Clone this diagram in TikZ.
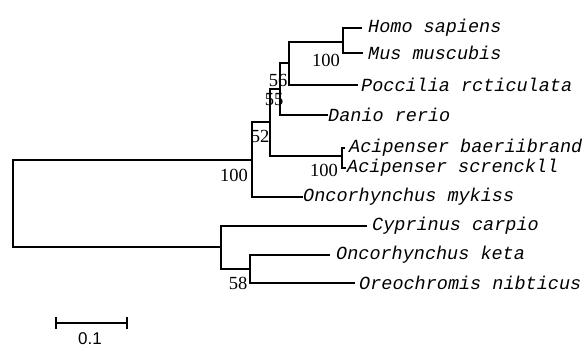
\documentclass[tikz,border=0pt]{standalone}
\usepackage{fontspec}
\newfontfamily\taxfont{Liberation Mono}
\newfontfamily\bootfont{Liberation Serif}
\newfontfamily\barfont{Liberation Sans}
\begin{document}
\begin{tikzpicture}[x=1pt,y=-1pt,
  branch/.style={line width=1.2pt},
  midbranch/.style={line width=1.9pt},
  boldbranch/.style={line width=2.9pt},
  taxon/.style={anchor=west,inner sep=0pt,font=\taxfont\itshape\fontsize{18.5}{20}\selectfont},
  boot/.style={inner sep=0pt,font=\bootfont\fontsize{18.5}{20}\selectfont}]
\useasboundingbox (0,0) rectangle (584,347);

% internal nodes
\coordinate (root) at (13,203.5);
\coordinate (nA)   at (252,160);
\coordinate (n52)  at (270,122);
\coordinate (n55)  at (280,89);
\coordinate (n56)  at (289,63);
\coordinate (nHM)  at (343,42);
\coordinate (nAci) at (342,156);
\coordinate (nC)   at (221,247);
\coordinate (nD)   at (250,269);

% branch tips
\coordinate (tHomo) at (362,28);
\coordinate (tMus)  at (363,53);
\coordinate (tPoe)  at (358,85);
\coordinate (tDan)  at (328,115);
\coordinate (tAc1)  at (345,148);
\coordinate (tAc2)  at (346,168);
\coordinate (tMyk)  at (303,197);
\coordinate (tCyp)  at (367,226);
\coordinate (tKet)  at (330,255);
\coordinate (tOre)  at (355,283);

% root split
\draw[midbranch] (nA) -| (root) |- (nC);
% ingroup clade
\draw[branch] (n52) -| (nA);
\draw[midbranch] (nA) |- (tMyk);
\draw[branch] (n55) -| (n52) |- (nAci);
\draw[branch] (n56) -| (n55) |- (tDan);
\draw[branch] (nHM) -| (n56) |- (tPoe);
\draw[boldbranch] (tHomo) -| (nHM) |- (tMus);
\draw[branch] (tAc1) -| (nAci);
\draw[midbranch] (nAci) |- (tAc2);
% outgroup clade
\draw[branch] (tCyp) -| (nC) |- (nD);
\draw[branch] (tKet) -| (nD) |- (tOre);

% taxon names
\node[taxon] (lHomo) at ([xshift=6pt]tHomo) {Homo sapiens};
\node[taxon] (lMus)  at ([xshift=5pt]tMus)  {Mus muscubis};
\node[taxon] (lPoe)  at ([xshift=3pt]tPoe)  {Poccilia rcticulata};
\node[taxon] (lDan)  at ([xshift=0pt]tDan)  {Danio rerio};
\node[taxon] (lAc1)  at ([xshift=4pt]tAc1)  {Acipenser baeriibrand};
\node[taxon] (lAc2)  at ([xshift=1pt]tAc2)  {Acipenser screnckll};
\node[taxon] (lMyk)  at ([xshift=0pt]tMyk)  {Oncorhynchus mykiss};
\node[taxon] (lCyp)  at ([xshift=5pt]tCyp)  {Cyprinus carpio};
\node[taxon] (lKet)  at ([xshift=6pt]tKet)  {Oncorhynchus keta};
\node[taxon] (lOre)  at ([xshift=4pt]tOre)  {Oreochromis nibticus};

% bootstrap values
\node[boot] (bHM)  at (326,60)  {100};
\node[boot] (b56)  at (278,80)  {56};
\node[boot] (b55)  at (274,100) {55};
\node[boot] (b52)  at (260,136) {52};
\node[boot] (bA)   at (234,175) {100};
\node[boot] (bAci) at (324,170) {100};
\node[boot] (b58)  at (238,283) {58};

% scale bar
\coordinate (sL) at (56,323);
\coordinate (sR) at (127,323);
\draw[midbranch] (sL) -- (sR);
\draw[midbranch] ([yshift=-6pt]sL) -- ([yshift=6pt]sL);
\draw[midbranch] ([yshift=-6pt]sR) -- ([yshift=6pt]sR);
\node[anchor=base,inner sep=0pt,font=\barfont\fontsize{17}{18}\selectfont] (sLab) at (90,344.5) {0.1};
\end{tikzpicture}
\end{document}
